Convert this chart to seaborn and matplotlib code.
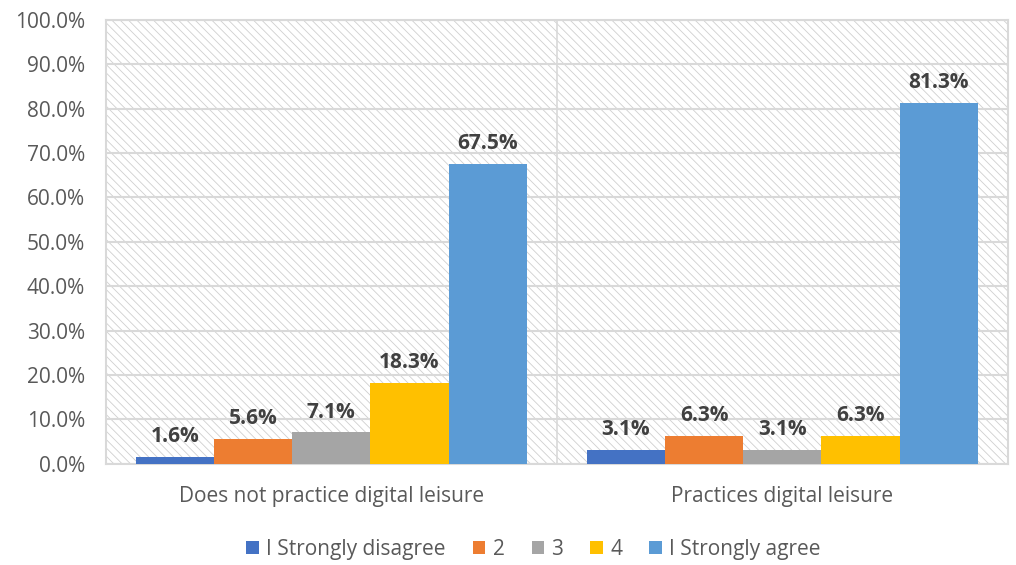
import matplotlib
matplotlib.use("Agg")
import matplotlib.pyplot as plt
from matplotlib.patches import Rectangle
from matplotlib.ticker import FixedLocator
import seaborn as sns
import pandas as pd

groups = ["Does not practice digital leisure", "Practices digital leisure"]
levels = ["I Strongly disagree", "2", "3", "4", "I Strongly agree"]
not_practice = [1.6, 5.6, 7.1, 18.3, 67.5]
practice = [3.1, 6.3, 3.1, 6.3, 81.3]
y_ticks = [0, 10, 20, 30, 40, 50, 60, 70, 80, 90, 100]
palette = ["#4472C4", "#ED7D31", "#A5A5A5", "#FFC000", "#5B9BD5"]

rows = []
for g, vals in zip(groups, [not_practice, practice]):
    for lvl, v in zip(levels, vals):
        rows.append({"group": g, "level": lvl, "value": v})
df = pd.DataFrame(rows)

sns.set_theme(style="white")
plt.rcParams["font.family"] = ["Open Sans", "DejaVu Sans"]
plt.rcParams["hatch.linewidth"] = 0.6
plt.rcParams["hatch.color"] = "#cfcfcf"

fig = plt.figure(figsize=(10.16, 5.65), dpi=100)
ax = fig.add_axes([0.104, 0.179, 0.888, 0.786])

# hatched plot-area background
ax.add_patch(Rectangle((0, 0), 1, 1, transform=ax.transAxes, facecolor="white",
                       edgecolor="#cfcfcf", hatch="\\\\\\\\", linewidth=0, zorder=0))

sns.barplot(data=df, x="group", y="value", hue="level", order=groups,
            hue_order=levels, palette=palette, width=0.867, saturation=1,
            edgecolor="none", linewidth=0, ax=ax, zorder=3)

for cont in ax.containers:
    ax.bar_label(cont, fmt="%.1f%%", padding=7, fontsize=15, fontweight="bold",
                 color="#404040", zorder=5)

ax.set_ylim(0, 100)
ax.set_xlim(-0.5, 1.5)
ax.set_yticks(y_ticks)
ax.set_yticklabels([f"{t:.1f}%" for t in y_ticks])
ax.tick_params(axis="y", length=0, labelsize=15, labelcolor="#595959", pad=15)
ax.tick_params(axis="x", which="major", length=0, labelsize=15,
               labelcolor="#595959", pad=16)
ax.xaxis.set_minor_locator(FixedLocator([-0.5, 0.5, 1.5]))
ax.tick_params(axis="x", which="minor", length=7, width=1.2, color="#d9d9d9")
ax.set_xlabel("")
ax.set_ylabel("")

ax.grid(axis="y", color="#d9d9d9", linewidth=1.5, zorder=1)
ax.grid(axis="x", which="minor", color="#d9d9d9", linewidth=1.2, zorder=1)
ax.set_axisbelow(True)
for side, sp in ax.spines.items():
    sp.set_visible(True)
    sp.set_color("#d9d9d9")
    sp.set_linewidth(1.5)

handles, labels = ax.get_legend_handles_labels()
ax.legend_.remove()
fig.legend(handles, labels, loc="center", bbox_to_anchor=(0.525, 0.028),
           ncol=5, frameon=False, fontsize=15, handlelength=0.6,
           handleheight=0.6, handletextpad=0.35, columnspacing=1.3,
           labelcolor="#595959")

fig.savefig("out.png", dpi=100)
